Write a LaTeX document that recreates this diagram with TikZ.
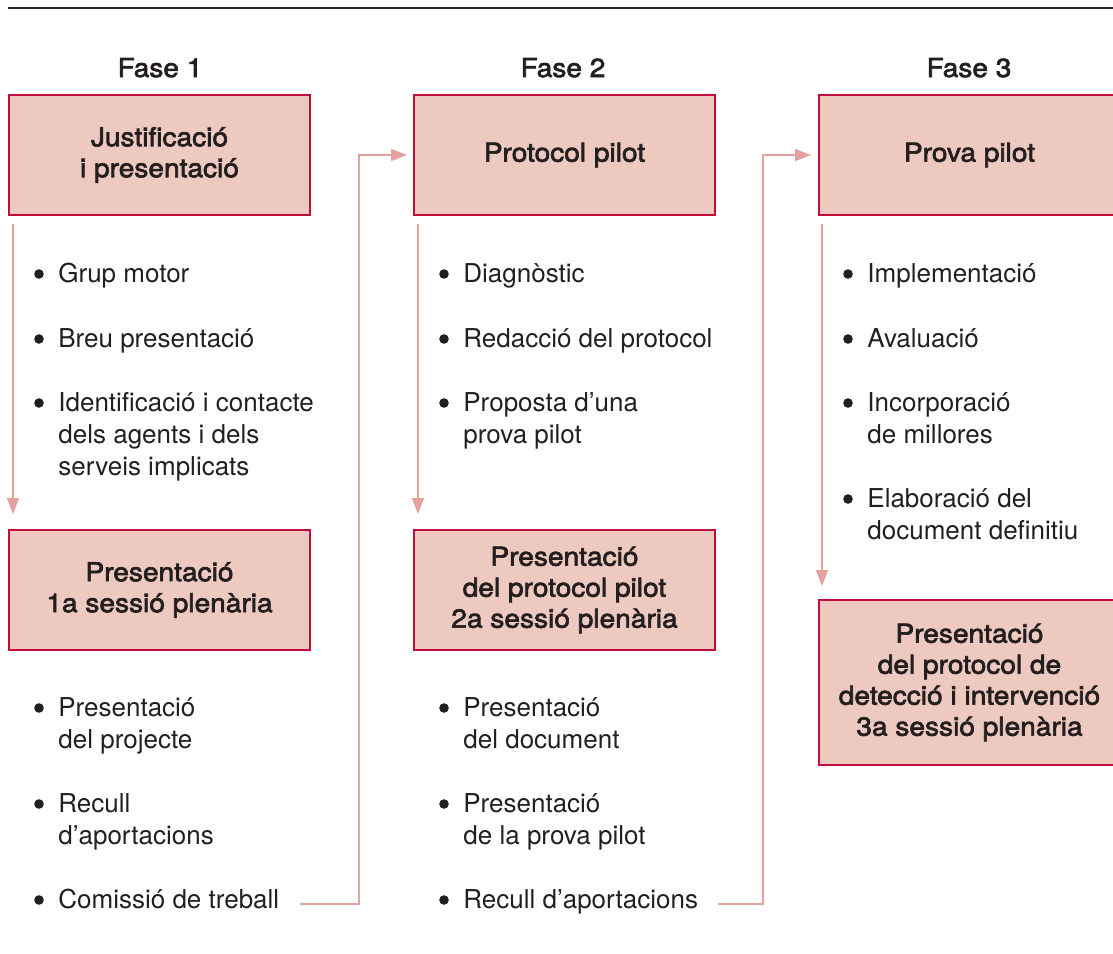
\documentclass[tikz,border=0pt]{standalone}
\usepackage{fontspec}
\setmainfont{TeX Gyre Heros}
\newfontfamily\mediumfont[FakeBold=2.5,FakeStretch=1.08]{TeX Gyre Heros}
\usetikzlibrary{arrows.meta}

\definecolor{boxfill}{HTML}{EEC9C0}
\definecolor{boxline}{HTML}{C20E3C}
\definecolor{flowline}{HTML}{E4A19E}
\definecolor{txt}{HTML}{231F20}

% lines of one item, baseline on the first line
\newcommand{\lines}[1]{\begin{tabular}[t]{@{}l@{}}#1\end{tabular}}

\begin{document}
\begin{tikzpicture}[x=0.5pt,y=-0.5pt,
    phase/.style={anchor=base, inner sep=0pt, text=txt, font=\mediumfont\fontsize{13}{16}\selectfont},
    stage/.style={rectangle, draw=boxline, line width=1pt, fill=boxfill, text=txt,
      minimum width=150.5pt, minimum height=60pt, align=center,
      font=\mediumfont\fontsize{13}{15.5}\selectfont},
    dot/.style={circle, fill=txt, inner sep=0pt, minimum size=4.8pt, anchor=center, xshift=-9.5pt, yshift=4pt},
    item/.style={anchor=base west, inner sep=0pt, text=txt,
      font=\fontsize{13}{16}\selectfont, label={[dot]base west:{}}},
    flow/.style={draw=flowline, line width=0.8pt, -{Triangle[length=8pt,width=6pt]}}]
    \useasboundingbox (0,0) rectangle (1113,953);

    % rule on top
    \draw[line width=0.75pt, black!85] (8,8) -- (1113,8);

    % phase titles
    \node[phase] (fase1) at (160,77) {Fase 1};
    \node[phase] (fase2) at (563,77) {Fase 2};
    \node[phase] (fase3) at (969,77) {Fase 3};

    % boxes
    \node[stage] (just) at (159.5,155) {Justificació\\i presentació};
    \node[stage] (pres1) at (159.5,590) {Presentació\\1a sessió plenària};
    \node[stage] (prot) at (564.5,155) {Protocol pilot};
    \node[stage] (pres2) at (564.5,590) {Presentació\\del protocol pilot\\2a sessió plenària};
    \node[stage] (prova) at (969.5,155) {Prova pilot};
    \node[stage, minimum height=82.5pt] (pres3) at (969.5,682.5) {Presentació\\del protocol de\\detecció i intervenció\\3a sessió plenària};

    % fase 1 items
    \node[item] (grup) at (58,282) {Grup motor};
    \node[item] (breu) at (58,347) {Breu presentació};
    \node[item] (ident) at (58,411) {\lines{Identificació i contacte\\dels agents i dels\\serveis implicats}};
    \node[item] (projecte) at (58,716) {\lines{Presentació\\del projecte}};
    \node[item] (recull1) at (58,812) {\lines{Recull\\d'aportacions}};
    \node[item] (comissio) at (58,908) {Comissió de treball};

    % fase 2 items
    \node[item] (diag) at (463,282) {Diagnòstic};
    \node[item] (redaccio) at (463,347) {Redacció del protocol};
    \node[item] (proposta) at (463,411) {\lines{Proposta d'una\\prova pilot}};
    \node[item] (document) at (463,716) {\lines{Presentació\\del document}};
    \node[item] (provapres) at (463,812) {\lines{Presentació\\de la prova pilot}};
    \node[item] (recull2) at (463,908) {Recull d'aportacions};

    % fase 3 items
    \node[item] (impl) at (867,282) {Implementació};
    \node[item] (aval) at (867,347) {Avaluació};
    \node[item] (incorp) at (867,411) {\lines{Incorporació\\de millores}};
    \node[item] (elab) at (867,507) {\lines{Elaboració del\\document definitiu}};

    % arrows
    \draw[flow] ([xshift=2.5pt,yshift=-4pt]just.south west) -- ([xshift=2.5pt,yshift=7.5pt]pres1.north west);
    \draw[flow] ([xshift=2.5pt,yshift=-4pt]prot.south west) -- ([xshift=2.5pt,yshift=7.5pt]pres2.north west);
    \draw[flow] ([xshift=2pt,yshift=-4pt]prova.south west) -- ([xshift=2pt,yshift=6.5pt]pres3.north west);
    \draw[flow] ([xshift=10pt,yshift=2pt]comissio.base east) -| ([xshift=-27pt]prot.west) -- ([xshift=-3pt]prot.west);
    \draw[flow] ([xshift=10pt,yshift=2pt]recull2.base east) -| ([xshift=-27.5pt]prova.west) -- ([xshift=-3.5pt]prova.west);
\end{tikzpicture}
\end{document}
